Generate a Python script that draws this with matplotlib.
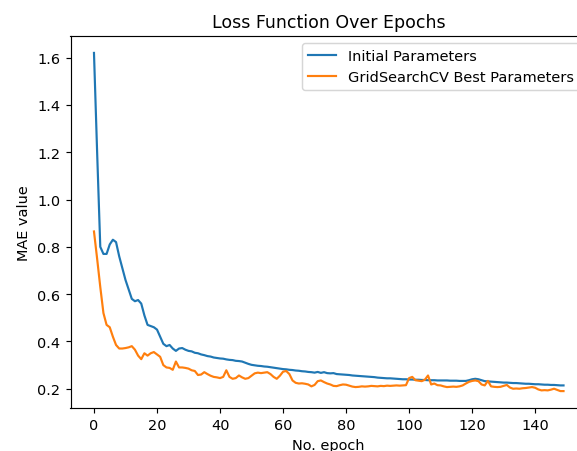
import numpy as np
import matplotlib
matplotlib.use("Agg")
import matplotlib.pyplot as plt

# MAE per epoch for the two training runs
mae_initial = [1.62, 1.20, 0.80, 0.77, 0.77, 0.81, 0.83, 0.82, 0.76, 0.71,
               0.66, 0.62, 0.58, 0.57, 0.575, 0.56, 0.51, 0.47, 0.465, 0.46,
               0.45, 0.42, 0.39, 0.38, 0.385, 0.37, 0.36, 0.37, 0.372, 0.365,
               0.36, 0.358, 0.352, 0.35, 0.345, 0.342, 0.338, 0.336, 0.332, 0.33,
               0.328, 0.327, 0.324, 0.322, 0.321, 0.318, 0.317, 0.315, 0.31, 0.305,
               0.301, 0.299, 0.297, 0.296, 0.294, 0.293, 0.291, 0.289, 0.287, 0.285,
               0.283, 0.282, 0.280, 0.279, 0.277, 0.276, 0.274, 0.273, 0.271, 0.270,
               0.268, 0.271, 0.267, 0.270, 0.266, 0.265, 0.266, 0.262, 0.261, 0.260,
               0.259, 0.258, 0.256, 0.255, 0.254, 0.253, 0.252, 0.251, 0.250, 0.249,
               0.247, 0.246, 0.245, 0.244, 0.244, 0.243, 0.242, 0.241, 0.240, 0.240,
               0.239, 0.239, 0.238, 0.238, 0.237, 0.237, 0.236, 0.236, 0.236, 0.235,
               0.235, 0.235, 0.235, 0.234, 0.234, 0.234, 0.233, 0.233, 0.233, 0.236,
               0.240, 0.242, 0.240, 0.236, 0.232, 0.231, 0.230, 0.229, 0.228, 0.227,
               0.226, 0.226, 0.225, 0.224, 0.224, 0.223, 0.222, 0.221, 0.221, 0.220,
               0.219, 0.219, 0.218, 0.217, 0.217, 0.216, 0.216, 0.215, 0.214, 0.214]

mae_best = [0.865, 0.75, 0.63, 0.52, 0.47, 0.46, 0.42, 0.385, 0.37, 0.37,
            0.372, 0.375, 0.38, 0.365, 0.34, 0.325, 0.35, 0.34, 0.35, 0.355,
            0.345, 0.335, 0.30, 0.29, 0.288, 0.28, 0.315, 0.29, 0.29, 0.288,
            0.285, 0.278, 0.275, 0.258, 0.26, 0.27, 0.262, 0.255, 0.25, 0.248,
            0.245, 0.25, 0.278, 0.25, 0.242, 0.245, 0.256, 0.248, 0.242, 0.245,
            0.255, 0.265, 0.268, 0.266, 0.268, 0.27, 0.262, 0.25, 0.242, 0.255,
            0.272, 0.275, 0.262, 0.235, 0.225, 0.222, 0.223, 0.221, 0.218, 0.21,
            0.216, 0.232, 0.235, 0.228, 0.222, 0.218, 0.212, 0.211, 0.215, 0.218,
            0.217, 0.213, 0.209, 0.207, 0.208, 0.21, 0.209, 0.21, 0.212, 0.211,
            0.21, 0.212, 0.211, 0.213, 0.212, 0.213, 0.214, 0.213, 0.214, 0.215,
            0.245, 0.25, 0.236, 0.234, 0.232, 0.238, 0.256, 0.218, 0.222, 0.215,
            0.214, 0.21, 0.207, 0.208, 0.209, 0.208, 0.21, 0.214, 0.222, 0.229,
            0.233, 0.235, 0.232, 0.218, 0.214, 0.233, 0.21, 0.208, 0.207, 0.208,
            0.212, 0.216, 0.205, 0.2, 0.201, 0.2, 0.202, 0.203, 0.205, 0.207,
            0.204, 0.197, 0.193, 0.194, 0.193, 0.196, 0.2, 0.195, 0.19, 0.19]

labels = ["Initial Parameters", "GridSearchCV Best Parameters"]

W, H, DPI = 577, 452, 104
fig = plt.figure(figsize=(W / DPI, H / DPI), dpi=DPI)
# axes runs past the right edge of the figure, like a cropped export
ax = fig.add_axes([70.5 / W, 43 / H, 516.5 / W, 372 / H])

epochs = np.arange(len(mae_initial))
ax.plot(epochs, mae_initial, label=labels[0])
ax.plot(epochs, mae_best, label=labels[1])

ax.set_title("Loss Function Over Epochs")
ax.set_xlabel("No. epoch")
ax.set_ylabel("MAE value")
ax.legend(loc="upper right")

fig.savefig("out.png", dpi=DPI)
plt.close()
